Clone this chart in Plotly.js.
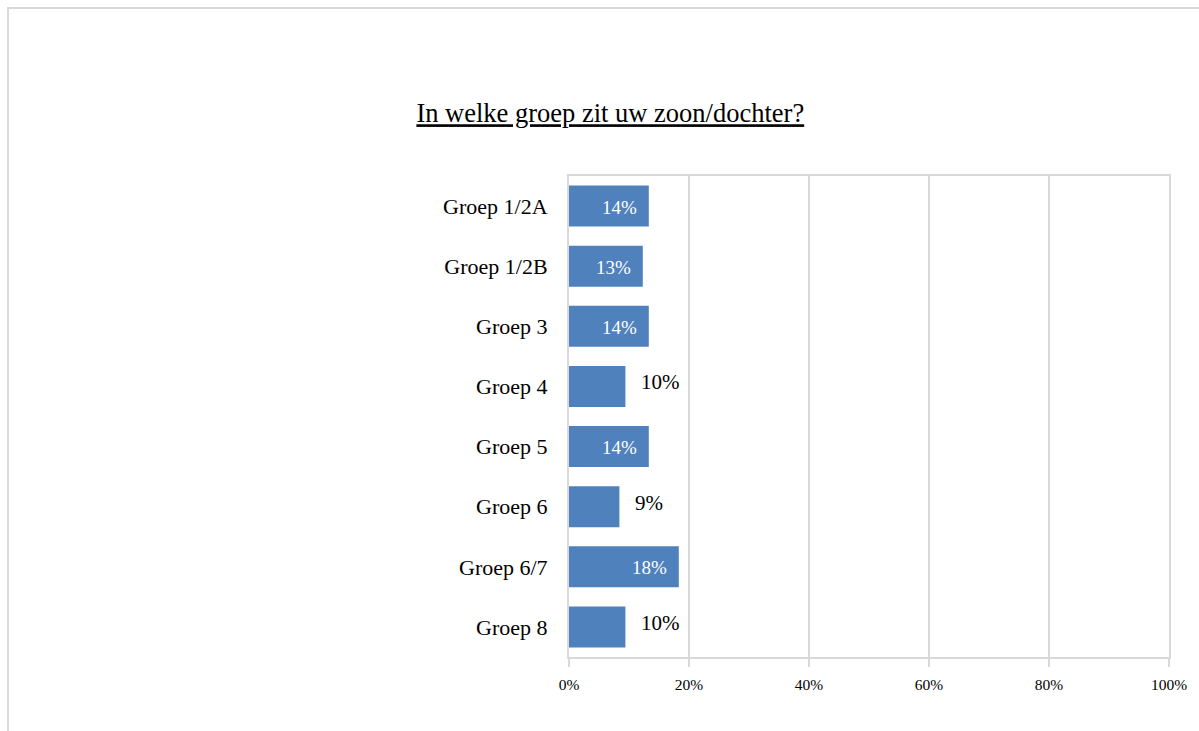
<!DOCTYPE html>
<html>
<head>
<meta charset="utf-8">
<script src="https://cdn.plot.ly/plotly-3.0.1.min.js"></script>
<style>
  html, body { margin: 0; padding: 0; background: #ffffff; }
  #wrap { position: relative; width: 1199px; height: 731px; overflow: hidden; }
  #chart { position: absolute; left: 0; top: 0; width: 1199px; height: 731px; }
  #frame { position: absolute; left: 7px; top: 7px; right: -10px; bottom: -10px;
           border-top: 2px solid #d9d9d9; border-left: 2px solid #d9d9d9; pointer-events: none; }
</style>
</head>
<body>
<div id="wrap">
  <div id="chart"></div>
  <div id="frame"></div>
</div>
<script>
// Data
const categories = ["Groep 1/2A", "Groep 1/2B", "Groep 3", "Groep 4", "Groep 5", "Groep 6", "Groep 6/7", "Groep 8"];
const shares = [0.133, 0.123, 0.133, 0.094, 0.133, 0.084, 0.183, 0.094];
const labels = ["14%", "13%", "14%", "10%", "14%", "9%", "18%", "10%"];
const xTickVals = [0, 0.2, 0.4, 0.6, 0.8, 1.0];
const xTickText = ["0%", "20%", "40%", "60%", "80%", "100%"];
const chartTitle = "In welke groep zit uw zoon/dochter?";

const FONT = "Liberation Serif, Times New Roman, serif";
const GRID = "#d9d9d9";
const BAR = "#4f81bd";

const trace = {
  type: "bar",
  orientation: "h",
  x: shares,
  y: categories,
  marker: { color: BAR },
  hoverinfo: "none"
};

// Data labels: inside (white) for wider bars, outside (black) for narrow ones
const annotations = shares.map((v, i) => {
  const inside = v >= 0.12;
  return {
    x: v, y: categories[i], xref: "x", yref: "y",
    text: labels[i], showarrow: false,
    xanchor: inside ? "right" : "left",
    yanchor: "middle",
    xshift: inside ? -10 : 14,
    yshift: inside ? -1 : 4,
    font: { family: FONT, size: inside ? 19 : 21, color: inside ? "#ffffff" : "#000000" }
  };
});

const layout = {
  width: 1199, height: 731,
  paper_bgcolor: "#ffffff", plot_bgcolor: "#ffffff",
  margin: { l: 569, r: 30, t: 176, b: 74 },
  showlegend: false,
  bargap: 0.32,
  title: {
    text: "<u>" + chartTitle + "</u>",
    font: { family: FONT, size: 26.5, color: "#000000" },
    xref: "container", yref: "container",
    x: 0.509, xanchor: "center",
    y: 1 - 113 / 731, yanchor: "middle"
  },
  xaxis: {
    range: [0, 1],
    tickvals: xTickVals, ticktext: xTickText,
    showgrid: true, gridcolor: GRID, gridwidth: 2,
    zeroline: false,
    showline: true, linecolor: GRID, linewidth: 2, mirror: true,
    ticks: "outside", ticklen: 8, tickwidth: 2, tickcolor: GRID,
    ticklabelstandoff: 4,
    tickfont: { family: FONT, size: 15.5, color: "#000000" },
    fixedrange: true
  },
  yaxis: {
    autorange: "reversed",
    showgrid: false, zeroline: false,
    showline: true, linecolor: GRID, linewidth: 2, mirror: true,
    ticks: "",
    ticklabelstandoff: 15,
    tickfont: { family: FONT, size: 22, color: "#000000" },
    fixedrange: true
  },
  annotations: annotations
};

Plotly.newPlot("chart", [trace], layout, { displayModeBar: false, staticPlot: true });
</script>
</body>
</html>
